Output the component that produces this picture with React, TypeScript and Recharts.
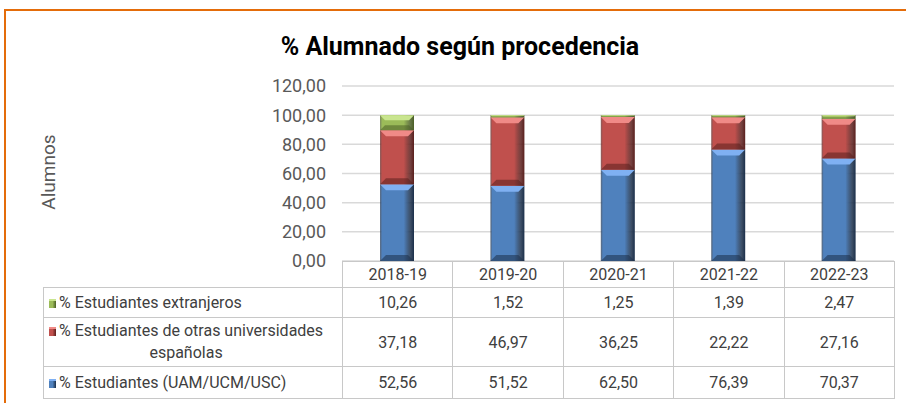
import { Bar, BarChart, CartesianGrid, XAxis, YAxis } from "recharts";

const cursos = ["2018-19", "2019-20", "2020-21", "2021-22", "2022-23"];
const uamUcmUsc = [52.56, 51.52, 62.5, 76.39, 70.37];
const otrasUniv = [37.18, 46.97, 36.25, 22.22, 27.16];
const extranjeros = [10.26, 1.52, 1.25, 1.39, 2.47];
const yTicks = [0, 20, 40, 60, 80, 100, 120];

const FONT = "'Roboto', sans-serif";
const GRAY = "#595959";

type Serie = {
  key: string;
  label: string[];
  values: number[];
  base: string;
  light: string;
  dark: string;
};

// table order (top to bottom); stacking order is the reverse
const series: Serie[] = [
  { key: "ext", label: ["% Estudiantes extranjeros"], values: extranjeros, base: "#9BBB59", light: "#C9E58F", dark: "#4A5E26" },
  { key: "otr", label: ["% Estudiantes de otras universidades", "españolas"], values: otrasUniv, base: "#C0504D", light: "#F08A87", dark: "#5A1F1D" },
  { key: "uam", label: ["% Estudiantes (UAM/UCM/USC)"], values: uamUcmUsc, base: "#4F81BD", light: "#7FB0F2", dark: "#1B2F4A" },
];

const data = cursos.map((c, i) => {
  const row: Record<string, string | number> = { curso: c };
  series.forEach((s) => (row[s.key] = s.values[i]));
  return row;
});

const fmt = (v: number) => v.toFixed(2).replace(".", ",");

const PLOT_LEFT = 342;
const PLOT_RIGHT = 894;
const COL_W = (PLOT_RIGHT - PLOT_LEFT) / cursos.length;

function BevelBar(props: any) {
  const { x, y, width, height, s } = props;
  if (!height || height <= 0) return null;
  const b = Math.min(6, height / 3);
  return (
    <g>
      <rect x={x} y={y} width={width} height={height} fill={`url(#grad-${s.key})`} />
      <polygon
        points={`${x},${y} ${x + width},${y} ${x + width - b},${y + b} ${x + b},${y + b}`}
        fill={s.light}
      />
      <polygon
        points={`${x + b},${y + height - b} ${x + width - b},${y + height - b} ${x + width},${y + height} ${x},${y + height}`}
        fill={s.dark}
        opacity={0.55}
      />
    </g>
  );
}

export default function App() {
  const stack = [...series].reverse();
  const cell = { border: "1px solid #C8C8C8", padding: 0, textAlign: "center" as const, color: "#404040" };
  return (
    <div style={{ position: "absolute", left: 0, top: 0, width: 906, height: 403, background: "#fff", overflow: "hidden", fontFamily: FONT }}>
      <div style={{ position: "absolute", left: 4, top: 9, width: 920, height: 420, borderTop: "2px solid #E46C0A", borderLeft: "2px solid #E46C0A" }} />
      <div style={{ position: "absolute", left: 0, width: 920, top: 32, textAlign: "center", fontSize: 25, fontWeight: "bold", color: "#000", fontFamily: FONT }}>
        % Alumnado según procedencia
      </div>
      <div style={{ position: "absolute", left: 48, top: 172, transform: "translate(-50%, -50%) rotate(-90deg)", fontSize: 19, color: GRAY, whiteSpace: "nowrap" }}>
        Alumnos
      </div>
      <div style={{ position: "absolute", left: 0, top: 0 }}>
        <BarChart width={906} height={280} data={data} margin={{ top: 86, right: 906 - PLOT_RIGHT, bottom: 19, left: 0 }} barSize={34}>
          <defs>
            {series.map((s) => (
              <linearGradient key={s.key} id={`grad-${s.key}`} x1="0" y1="0" x2="1" y2="0">
                <stop offset="0%" stopColor={s.dark} stopOpacity={0.7} />
                <stop offset="6%" stopColor={s.base} />
                <stop offset="70%" stopColor={s.base} />
                <stop offset="90%" stopColor={s.dark} stopOpacity={0.85} />
                <stop offset="100%" stopColor={s.dark} />
              </linearGradient>
            ))}
          </defs>
          <CartesianGrid vertical={false} stroke="#D9D9D9" strokeWidth={1.5} />
          <XAxis dataKey="curso" hide />
          <YAxis
            width={PLOT_LEFT}
            domain={[0, 120]}
            ticks={yTicks}
            tickFormatter={fmt}
            axisLine={false}
            tickLine={false}
            tickSize={0}
            tickMargin={16}
            tick={{ fill: GRAY, fontSize: 18, fontFamily: FONT }}
          />
          {stack.map((s) => (
            <Bar key={s.key} dataKey={s.key} stackId="a" isAnimationActive={false} shape={(p: any) => <BevelBar {...p} s={s} />} />
          ))}
        </BarChart>
      </div>
      <table style={{ position: "absolute", left: 43, top: 261, borderCollapse: "collapse", tableLayout: "fixed", width: PLOT_RIGHT - 43, fontSize: 16, fontFamily: FONT }}>
        <colgroup>
          <col style={{ width: PLOT_LEFT - 43 }} />
          {cursos.map((c) => (
            <col key={c} style={{ width: COL_W }} />
          ))}
        </colgroup>
        <tbody>
          <tr style={{ height: 26 }}>
            <td style={{ padding: 0, border: "none" }} />
            {cursos.map((c) => (
              <td key={c} style={{ ...cell, background: "#fff" }}>{c}</td>
            ))}
          </tr>
          {series.map((s) => (
            <tr key={s.key} style={{ height: s.label.length > 1 ? 49 : s.key === "uam" ? 32 : 30 }}>
              <td style={{ ...cell, textAlign: "left", paddingLeft: 5 }}>
                <span style={{ display: "inline-block", textAlign: "center", lineHeight: "22px" }}>
                  <span style={{ display: "inline-block", width: 7, height: 7, marginRight: 3, verticalAlign: "middle", background: `linear-gradient(to right, ${s.base} 50%, ${s.dark})`, borderTop: `2px solid ${s.light}` }} />
                  {s.label[0]}
                  {s.label.slice(1).map((l) => (
                    <span key={l}>
                      <br />
                      {l}
                    </span>
                  ))}
                </span>
              </td>
              {s.values.map((v, i) => (
                <td key={i} style={cell}>{fmt(v)}</td>
              ))}
            </tr>
          ))}
        </tbody>
      </table>
    </div>
  );
}
